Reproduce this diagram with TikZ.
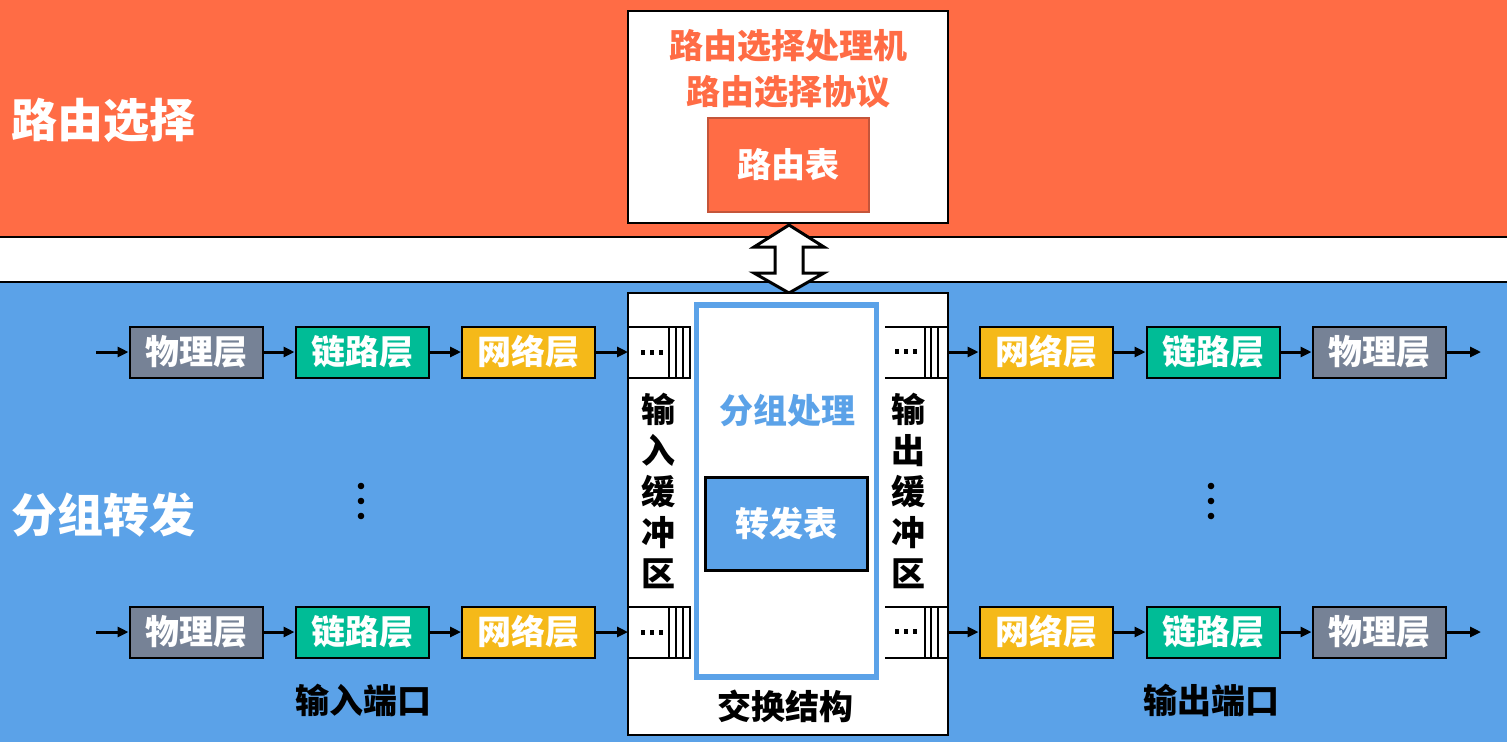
\documentclass[tikz,border=0pt]{standalone}
\usepackage{fontspec}
\newfontfamily\cjk{Noto Sans CJK SC}
\usetikzlibrary{arrows.meta}
\definecolor{rorange}{HTML}{FF6C45}
\definecolor{rorangedk}{HTML}{C4553A}
\definecolor{fblue}{HTML}{5BA2E8}
\definecolor{lgray}{HTML}{768296}
\definecolor{lgreen}{HTML}{00BC96}
\definecolor{lyellow}{HTML}{F5B919}
\tikzset{
  txt/.style={font=\cjk\bfseries\fontsize{34}{40}\selectfont, inner sep=0},
  layer/.style={draw=black, line width=2pt, minimum width=133, minimum height=51, inner sep=0,
     text=white, font=\cjk\bfseries\fontsize{34}{40}\selectfont},
  phys/.style={layer, fill=lgray},
  link/.style={layer, fill=lgreen},
  net/.style={layer, fill=lyellow},
  conn/.style={line width=3pt, -{Triangle[length=11pt,width=10pt]}},
  buf/.style={line width=2pt}
}
\begin{document}
\begin{tikzpicture}[x=1pt,y=-1pt]
\path[use as bounding box] (0,0) rectangle (1507,742);
% bands
\fill[rorange] (0,0) rectangle (1507,237);
\fill[white] (0,237) rectangle (1507,282);
\fill[fblue] (0,282) rectangle (1507,742);
\draw[line width=2pt] (0,237) -- (1507,237) (0,282) -- (1507,282);
% left titles
\node[txt, text=white, font=\cjk\bfseries\fontsize{46}{50}\selectfont, anchor=west] (rs) at (11,120) {路由选择};
\node[txt, text=white, font=\cjk\bfseries\fontsize{46}{50}\selectfont, anchor=west] (fw) at (11,515) {分组转发};
% routing processor box
\node[draw=black, line width=2pt, fill=white, minimum width=320, minimum height=212, inner sep=0] (rp) at (788,117) {};
\node[txt, text=rorange, align=center, font=\cjk\bfseries\fontsize{34}{46}\selectfont] (rpt) at (788,69) {路由选择处理机\\路由选择协议};
\node[draw=rorangedk, line width=1.5pt, fill=rorange, minimum width=161, minimum height=94, inner sep=0, text=white, font=\cjk\bfseries\fontsize{34}{40}\selectfont] (rt) at (788.5,165) {路由表};
% double arrow
\draw[line width=3pt, fill=white, line join=miter]
  (789,225) -- (824,247) -- (803,247) -- (803,273) -- (824,273) -- (789,293)
  -- (754,273) -- (775,273) -- (775,247) -- (754,247) -- cycle;
% switching fabric
\node[draw=black, line width=2pt, fill=white, minimum width=320, minimum height=442, inner sep=0] (sf) at (788,514) {};
\node[txt] (sft) at (785,706) {交换结构};
\node[draw=fblue, line width=5.5pt, fill=white, minimum width=180, minimum height=372, inner sep=0] (pp) at (786.5,491) {};
\node[txt, text=fblue] (ppt) at (787,411) {分组处理};
\node[draw=black, line width=3pt, fill=fblue, minimum width=162, minimum height=93, inner sep=0, text=white, font=\cjk\bfseries\fontsize{34}{40}\selectfont] (ft) at (786.5,524) {转发表};
% buffers
\foreach \y in {327,607}{
  \draw[buf] (628,\y) -- (691,\y) (628,\y+51) -- (691,\y+51);
  \foreach \x in {669,676,683,690} \draw[buf] (\x,\y) -- (\x,\y+51);
  \foreach \x in {643,652,661} \fill (\x-2.3,\y+23) rectangle (\x+2.3,\y+27.6);
  \draw[buf] (885,\y) -- (947,\y) (885,\y+51) -- (947,\y+51);
  \foreach \x in {925,931,938} \draw[buf] (\x,\y) -- (\x,\y+51);
  \foreach \x in {897,906,915} \fill (\x-2.3,\y+22) rectangle (\x+2.3,\y+26.6);
}
\node[txt, align=center, font=\cjk\bfseries\fontsize{34}{41}\selectfont] (ibt) at (658,491) {输\\入\\缓\\冲\\区};
\node[txt, align=center, font=\cjk\bfseries\fontsize{34}{41}\selectfont] (obt) at (908,491) {输\\出\\缓\\冲\\区};
% ports
\foreach \y/\n in {352/a,632/b}{
  \node[phys] (p1\n) at (196,\y) {物理层};
  \node[link] (l1\n) at (362,\y) {链路层};
  \node[net]  (n1\n) at (528.5,\y) {网络层};
  \node[net]  (n2\n) at (1046,\y) {网络层};
  \node[link] (l2\n) at (1213,\y) {链路层};
  \node[phys] (p2\n) at (1379,\y) {物理层};
  \coordinate (s\n) at (96,\y);
  \coordinate (e\n) at (1481,\y);
  \coordinate (bi\n) at (628,\y);
  \coordinate (bo\n) at (948,\y);
  \draw[conn] (s\n) -- (p1\n);
  \draw[conn] (p1\n) -- (l1\n);
  \draw[conn] (l1\n) -- (n1\n);
  \draw[conn] (n1\n) -- (bi\n);
  \draw[conn] (bo\n) -- (n2\n);
  \draw[conn] (n2\n) -- (l2\n);
  \draw[conn] (l2\n) -- (p2\n);
  \draw[conn] (p2\n) -- (e\n);
}
% vertical dots
\foreach \x in {361,1211} \foreach \y in {486,501,516} \fill (\x,\y) circle (3.3);
% port labels
\node[txt] (ipl) at (363,700) {输入端口};
\node[txt] (opl) at (1211,700) {输出端口};
\end{tikzpicture}
\end{document}
